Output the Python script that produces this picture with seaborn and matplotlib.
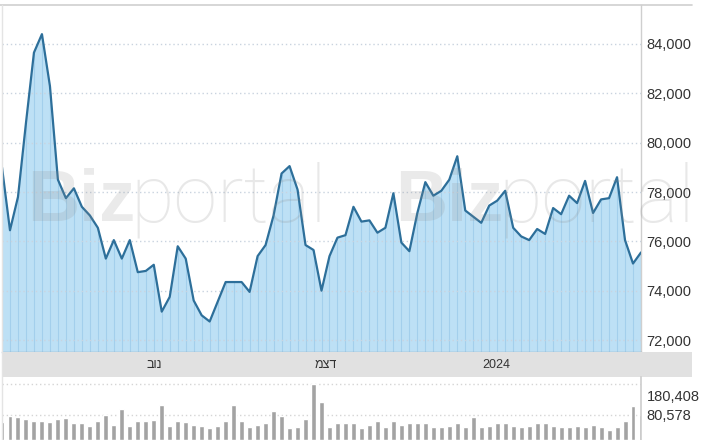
import numpy as np
import pandas as pd
import matplotlib
matplotlib.use('Agg')
import matplotlib.pyplot as plt
from matplotlib.lines import Line2D
from matplotlib.transforms import ScaledTranslation
import seaborn as sns

# daily closing values
price = [79000, 76450, 77800, 80800, 83650, 84400, 82300, 78500, 77750, 78150,
         77400, 77050, 76550, 75300, 76050, 75300, 76050, 74750, 74800, 75050,
         73150, 73750, 75800, 75300, 73600, 73000, 72750, 73550, 74350, 74350,
         74350, 73950, 75400, 75850, 77050, 78750, 79050, 78100, 75850, 75650,
         74000, 75400, 76150, 76250, 77400, 76800, 76850, 76350, 76550, 77950,
         75950, 75600, 77150, 78400, 77850, 78050, 78500, 79450, 77250, 77000,
         76750, 77450, 77650, 78050, 76550, 76200, 76050, 76500, 76300, 77350,
         77100, 77850, 77550, 78450, 77150, 77700, 77750, 78600, 76050, 75100,
         75550]

# daily volume
volume = [57050, 77350, 73160, 66720, 62200, 62200, 58010, 66720, 69940, 53820,
          53820, 45120, 61240, 80580, 48350, 98950, 45120, 61240, 61240, 64460,
          113770, 45120, 61240, 57050, 48350, 45120, 37710, 45120, 61240, 113770,
          61240, 40930, 48350, 53820, 94430, 77350, 37710, 40930, 68650, 180408,
          122470, 40930, 53820, 53820, 53820, 37710, 48350, 62200, 40930, 62200,
          47380, 53820, 53820, 53820, 40930, 40930, 45120, 53820, 40930, 75100,
          40930, 45120, 53820, 53820, 45120, 40930, 45120, 53820, 53820, 45120,
          40930, 40930, 45120, 40930, 48350, 40930, 32230, 40930, 62200, 109580,
          80578]

month_pos = [19.1, 40.6, 61.9]
month_labels = ['נוב', 'דצמ', '2024']
price_ticks = [72000, 74000, 76000, 78000, 80000, 82000, 84000]
vol_ticks = [80578, 180408]

sns.set_theme(style='white')
plt.rcParams['font.family'] = ['Liberation Sans', 'DejaVu Sans']

df = pd.DataFrame({'day': np.arange(len(price)), 'price': price, 'volume': volume})

W, H = 701, 440
fig = plt.figure(figsize=(W / 100, H / 100), dpi=100, facecolor='white')


def box(x0, y0, x1, y1):
    return [x0 / W, 1 - y1 / H, (x1 - x0) / W, (y1 - y0) / H]


def visual(s):
    # matplotlib has no bidi support, so flip hebrew strings for display
    if any('\u0590' <= c <= '\u05ff' for c in s):
        return s[::-1]
    return s


ax = fig.add_axes(box(2, 5, 641, 352))
band = fig.add_axes(box(2, 352, 692, 377))
axv = fig.add_axes(box(2, 377, 641, 440))

# price panel
ymin, ymax = 71514, 85581
ax.fill_between(df['day'], ymin, df['price'], color='#bde0f5', lw=0, zorder=1)
ax.vlines(df['day'], ymin, df['price'], color='#a3cfec', lw=0.8, zorder=1.5)
sns.lineplot(data=df, x='day', y='price', ax=ax, color='#2d6f9a', lw=1.6, zorder=3)
ax.set_xlim(0, len(price) - 1)
ax.set_ylim(ymin, ymax)
ax.set_xticks([])
ax.set_xlabel('')
ax.set_ylabel('')
ax.yaxis.tick_right()
ax.set_yticks(price_ticks)
ax.set_yticklabels([f'{t:,}' for t in price_ticks])
ax.tick_params(axis='y', length=0, pad=4, labelsize=10.5, labelcolor='#333333')
ax.set_axisbelow(False)
ax.grid(axis='y', ls=(0, (1, 2)), color='#c9d3df', lw=1)
for s in ['top', 'left']:
    ax.spines[s].set_visible(False)
ax.spines['right'].set_color('#cfcfcf')
ax.spines['right'].set_linewidth(1)
ax.spines['bottom'].set_color('#8fa9bd')
ax.spines['bottom'].set_linewidth(1)

# month band
band.set_facecolor('#e1e1e1')
band.set_xlim(0, (len(price) - 1) * (692 - 2) / (641 - 2))
band.set_ylim(0, 1)
band.set_xticks([])
band.set_yticks([])
for s in band.spines.values():
    s.set_visible(False)
for pos, lab in zip(month_pos, month_labels):
    band.text(pos, 0.5, visual(lab), ha='center', va='center', fontsize=9,
              color='#333333')

# volume panel
sns.barplot(data=df, x='day', y='volume', ax=axv, color='#a3a3a3', width=0.62,
            saturation=1, native_scale=True, zorder=2)
axv.set_xlim(0, len(price) - 1)
axv.set_ylim(0, 203000)
axv.set_xticks([])
axv.set_xlabel('')
axv.set_ylabel('')
axv.yaxis.tick_right()
axv.set_yticks(vol_ticks)
axv.set_yticklabels([f'{t:,}' for t in vol_ticks])
axv.tick_params(axis='y', length=0, pad=4, labelsize=10.5, labelcolor='#333333')
axv.grid(axis='y', ls=(0, (1, 2)), color='#d5d5d5', lw=1)
for s in ['top', 'left', 'bottom']:
    axv.spines[s].set_visible(False)
axv.spines['right'].set_color('#cfcfcf')
# top volume label sits a little lower than its level, as on the site
top_lbl = axv.get_yticklabels()[1]
top_lbl.set_transform(top_lbl.get_transform() + ScaledTranslation(0, -11 / 100, fig.dpi_scale_trans))

# frame lines
fig.add_artist(Line2D([0, 692 / W], [1 - 5 / H] * 2, color='#cfcfcf', lw=1.2))
fig.add_artist(Line2D([2 / W] * 2, [1 - 5 / H, 0], color='#e4e4e4', lw=1))

# watermark
for x0 in [27, 395]:
    fig.text(x0 / W, 1 - 221 / H, 'Biz', fontsize=52, fontweight='heavy',
             color='#8c8c8c', alpha=0.18, family='Liberation Sans', zorder=5)
    fig.text((x0 + 103) / W, 1 - 221 / H, 'portal', fontsize=57, fontweight='light',
             color='#8c8c8c', alpha=0.2, family='Roboto', zorder=5)

fig.savefig('out.png', dpi=100, facecolor='white')
